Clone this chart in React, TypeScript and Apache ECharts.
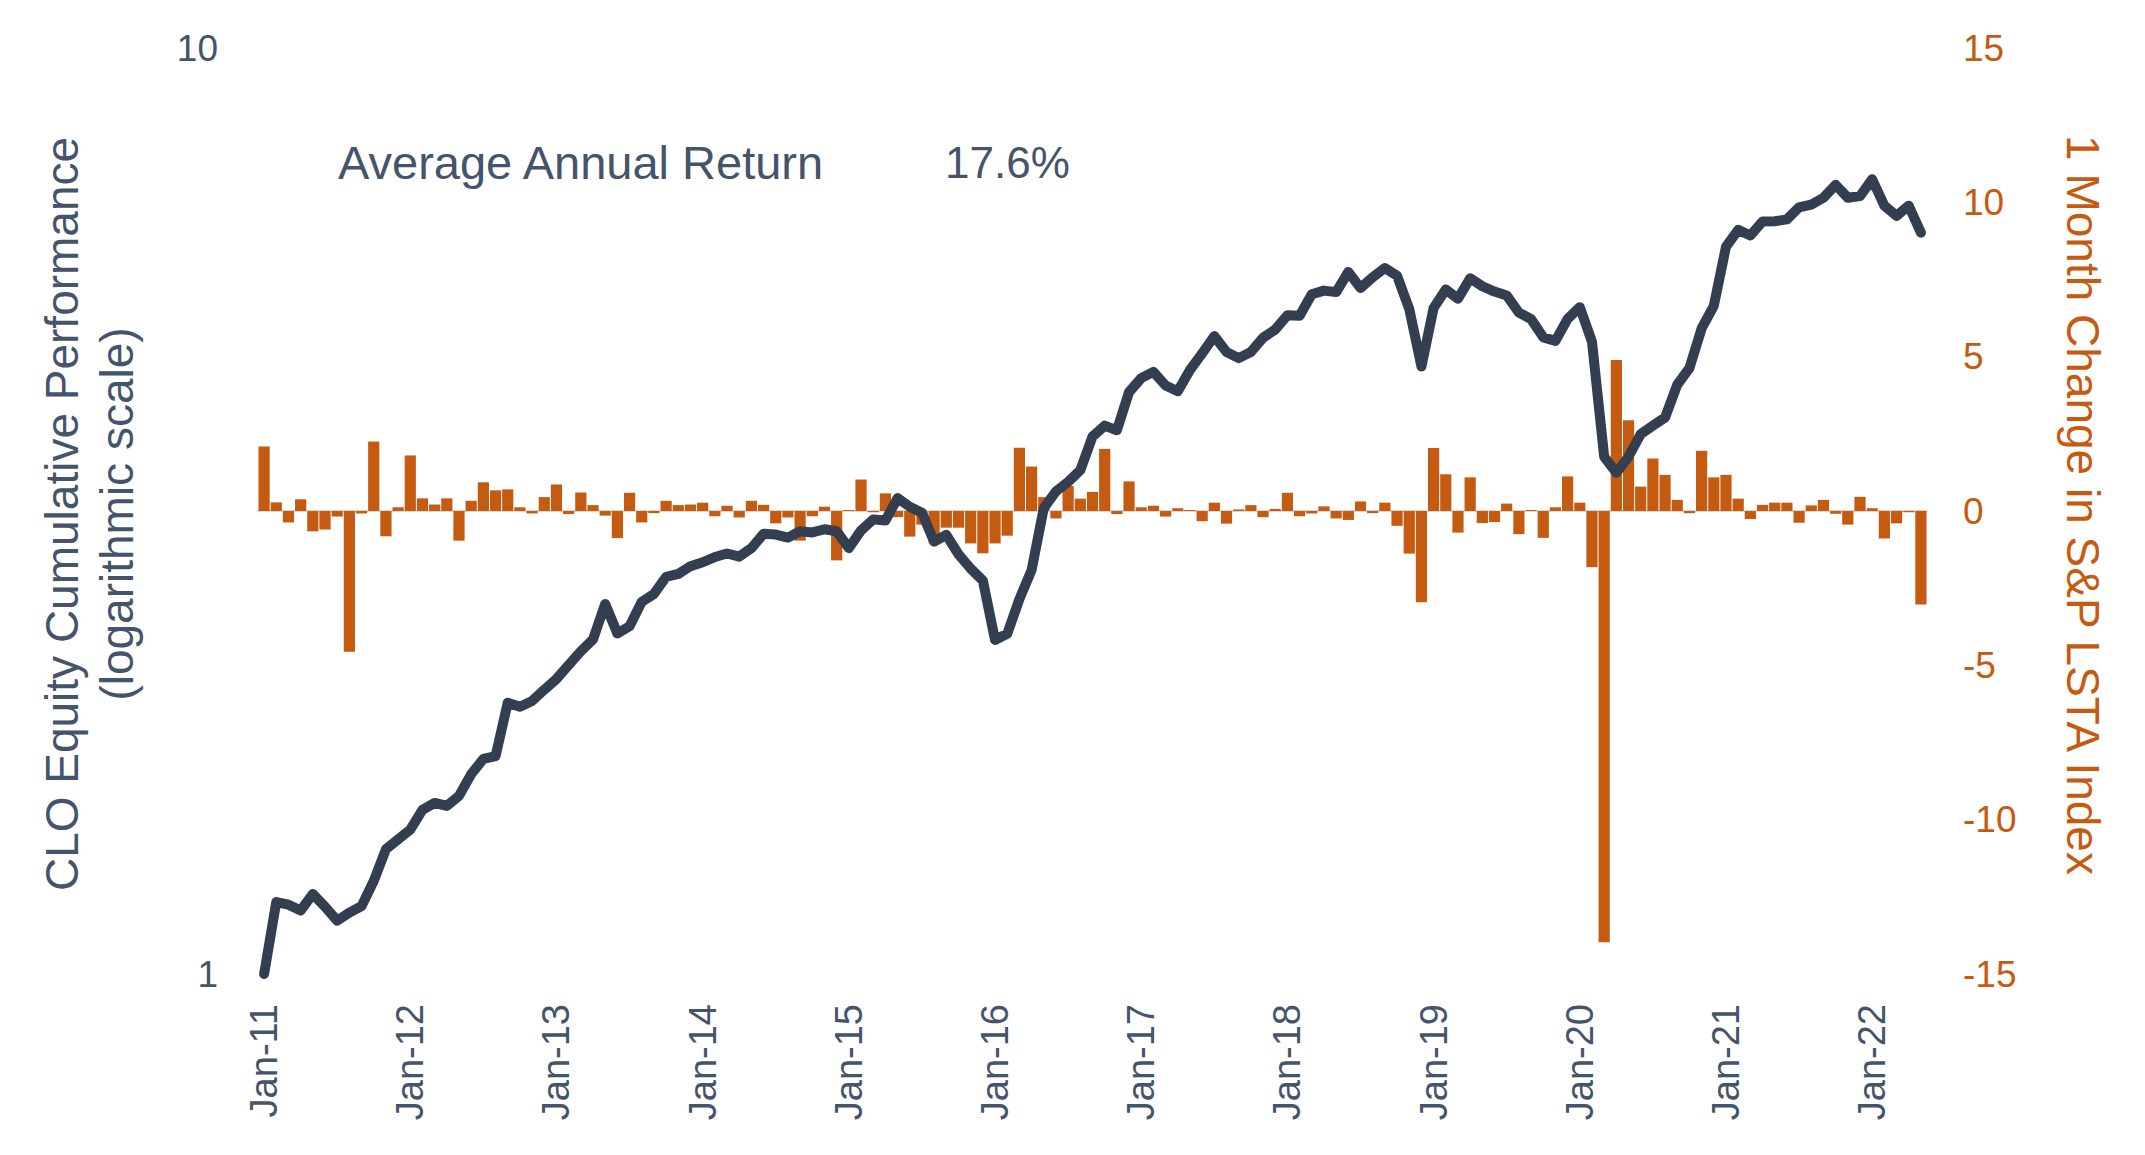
import React, { useEffect, useRef } from "react";
import * as echarts from "echarts";

const MONTHS = ["Jan", "Feb", "Mar", "Apr", "May", "Jun", "Jul", "Aug", "Sep", "Oct", "Nov", "Dec"];
const START_YEAR = 2011;

// CLO equity cumulative performance (log scale), monthly Jan-11 .. May-22
const cloEquity = [
  1.0, 1.196, 1.188, 1.171, 1.22, 1.182, 1.142, 1.165, 1.184, 1.26, 1.364, 1.398,
  1.432, 1.504, 1.53, 1.519, 1.557, 1.644, 1.707, 1.719, 1.963, 1.944, 1.972, 2.028,
  2.083, 2.156, 2.231, 2.298, 2.51, 2.332, 2.374, 2.523, 2.573, 2.685, 2.704, 2.757,
  2.784, 2.82, 2.845, 2.823, 2.883, 2.988, 2.982, 2.96, 3.007, 2.998, 3.022, 3.007,
  2.883, 3.013, 3.097, 3.088, 3.266, 3.196, 3.149, 2.93, 2.98, 2.84, 2.74, 2.66,
  2.295, 2.33, 2.54, 2.73, 3.185, 3.32, 3.4, 3.5, 3.806, 3.91, 3.865, 4.25,
  4.4, 4.47, 4.32, 4.26, 4.49, 4.68, 4.885, 4.695, 4.625, 4.695, 4.865, 4.966,
  5.145, 5.14, 5.42, 5.47, 5.45, 5.73, 5.505, 5.656, 5.785, 5.676, 5.225, 4.53,
  5.24, 5.486, 5.36, 5.64, 5.53, 5.457, 5.405, 5.18, 5.096, 4.87, 4.827, 5.1,
  5.25, 4.817, 3.62, 3.477, 3.62, 3.828, 3.91, 3.99, 4.328, 4.513, 4.979, 5.267,
  6.1, 6.362, 6.274, 6.496, 6.5, 6.53, 6.73, 6.776, 6.891, 7.116, 6.891, 6.919,
  7.216, 6.756, 6.588, 6.756, 6.318,
];

// 1 month change in S&P LSTA index (%)
const lstaChange = [
  2.09, 0.28, -0.37, 0.38, -0.66, -0.6, -0.18, -4.56, -0.08, 2.25, -0.82, 0.12,
  1.8, 0.41, 0.21, 0.41, -0.96, 0.33, 0.93, 0.67, 0.7, 0.12, -0.08, 0.45,
  0.86, -0.1, 0.6, 0.19, -0.15, -0.88, 0.59, -0.37, -0.07, 0.33, 0.19, 0.21,
  0.27, -0.17, 0.17, -0.21, 0.33, 0.2, -0.4, -0.21, -0.96, -0.17, 0.14, -1.6,
  0.03, 1.02, -0.04, 0.57, -0.2, -0.83, -0.44, -1.05, -0.54, -0.54, -1.05, -1.37,
  -1.05, -0.8, 2.05, 1.44, 0.45, -0.24, 0.81, 0.4, 0.62, 2.01, -0.1, 0.96,
  0.12, 0.17, -0.18, 0.09, 0.03, -0.33, 0.27, -0.41, 0.05, 0.19, -0.2, 0.07,
  0.59, -0.17, -0.08, 0.15, -0.24, -0.29, 0.31, -0.07, 0.27, -0.48, -1.38, -2.96,
  2.04, 1.19, -0.7, 1.09, -0.39, -0.36, 0.24, -0.75, 0.03, -0.87, 0.12, 1.12,
  0.27, -1.82, -13.97, 4.89, 2.94, 0.79, 1.7, 1.17, 0.36, -0.07, 1.95, 1.09,
  1.17, 0.4, -0.26, 0.2, 0.27, 0.27, -0.38, 0.18, 0.36, -0.09, -0.44, 0.46,
  0.09, -0.89, -0.4, -0.04, -3.03,
];

const categories = cloEquity.map((_, i) => {
  const yr = (START_YEAR + Math.floor(i / 12)) % 100;
  return `${MONTHS[i % 12]}-${String(yr).padStart(2, "0")}`;
});

const leftTitle = ["CLO Equity Cumulative Performance", "(logarithmic scale)"];
const rightTitle = "1 Month Change in S&P LSTA Index";
const annotLabel = "Average Annual Return";
const annotValue = "17.6%";

const SLATE = "#44546A";
const LINE = "#333F50";
const ORANGE = "#C55A11";
const FONT = "'Liberation Sans', Arial, sans-serif";

export default function App() {
  const ref = useRef<HTMLDivElement>(null);

  useEffect(() => {
    if (!ref.current) return;
    const chart = echarts.init(ref.current, null, { renderer: "svg" });
    const txt = (text: string, x: number, y: number, rot: number, color: string, size: number, align = "center") => ({
      type: "text",
      x,
      y,
      rotation: rot,
      silent: true,
      style: {
        text,
        fill: color,
        fontSize: size,
        fontFamily: FONT,
        align,
        textAlign: align,
        verticalAlign: "middle",
        textVerticalAlign: "middle",
      },
    });
    chart.setOption({
      animation: false,
      backgroundColor: "#ffffff",
      grid: { left: 258, right: 218, top: 48, bottom: 181, containLabel: false },
      xAxis: {
        type: "category",
        data: categories,
        boundaryGap: true,
        axisLine: { show: true, lineStyle: { color: "#D9D9D9", width: 2 } },
        axisTick: { show: false },
        axisLabel: {
          rotate: 90,
          interval: 11,
          margin: 30,
          color: SLATE,
          fontSize: 38,
          fontFamily: FONT,
        },
        splitLine: { show: false },
      },
      yAxis: [
        {
          type: "log",
          logBase: 10,
          min: 1,
          max: 10,
          position: "left",
          axisLine: { show: false },
          axisTick: { show: false },
          splitLine: { show: false },
          axisLabel: { color: SLATE, fontSize: 37, fontFamily: FONT, margin: 40 },
        },
        {
          type: "value",
          min: -15,
          max: 15,
          interval: 5,
          position: "right",
          axisLine: { show: false },
          axisTick: { show: false },
          splitLine: { show: false },
          axisLabel: { color: ORANGE, fontSize: 37, fontFamily: FONT, margin: 36 },
        },
      ],
      series: [
        {
          type: "bar",
          yAxisIndex: 1,
          data: lstaChange,
          barCategoryGap: "8%",
          itemStyle: { color: ORANGE },
          z: 2,
        },
        {
          type: "line",
          yAxisIndex: 0,
          data: cloEquity,
          symbol: "none",
          lineStyle: { color: LINE, width: 10, cap: "round", join: "round" },
          z: 3,
        },
      ],
      graphic: [
        txt(leftTitle[0], 62, 514, Math.PI / 2, SLATE, 46),
        txt(leftTitle[1], 117, 514, Math.PI / 2, SLATE, 46),
        txt(rightTitle, 2083, 505, -Math.PI / 2, ORANGE, 46),
        txt(annotLabel, 338, 162, 0, SLATE, 47, "left"),
        txt(annotValue, 945, 162, 0, SLATE, 44, "left"),
      ],
    });
    return () => chart.dispose();
  }, []);

  return (
    <div
      ref={ref}
      style={{ position: "fixed", left: 0, top: 0, width: 2145, height: 1155, background: "#fff" }}
    />
  );
}
